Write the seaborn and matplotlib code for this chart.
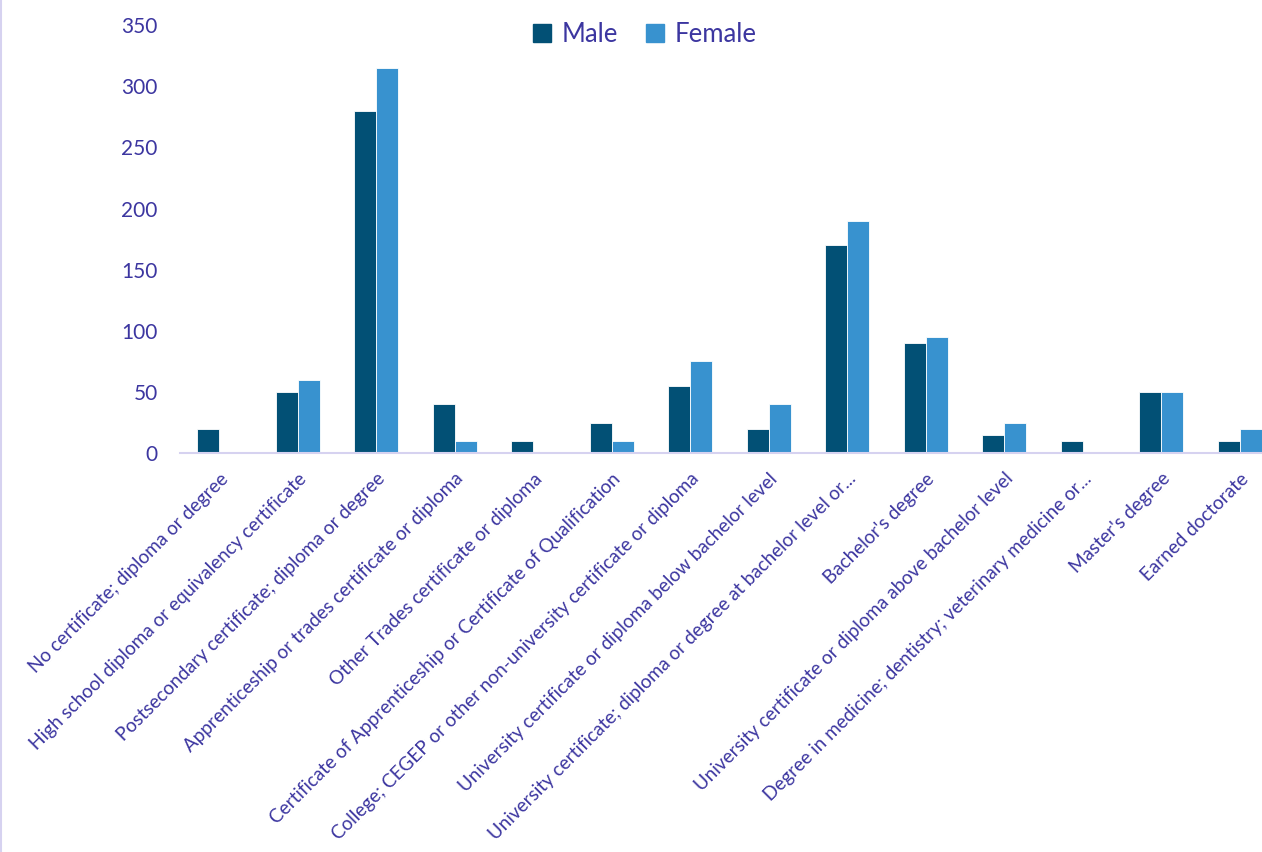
import matplotlib
matplotlib.use("Agg")
import matplotlib.pyplot as plt
import seaborn as sns
import pandas as pd

categories = [
    "No certificate; diploma or degree",
    "High school diploma or equivalency certificate",
    "Postsecondary certificate; diploma or degree",
    "Apprenticeship or trades certificate or diploma",
    "Other Trades certificate or diploma",
    "Certificate of Apprenticeship or Certificate of Qualification",
    "College; CEGEP or other non-university certificate or diploma",
    "University certificate or diploma below bachelor level",
    "University certificate; diploma or degree at bachelor level or...",
    "Bachelor's degree",
    "University certificate or diploma above bachelor level",
    "Degree in medicine; dentistry; veterinary medicine or...",
    "Master's degree",
    "Earned doctorate",
]
male = [20, 50, 280, 40, 10, 25, 55, 20, 170, 90, 15, 10, 50, 10]
female = [0, 60, 315, 10, 0, 10, 75, 40, 190, 95, 25, 0, 50, 20]
series = ["Male", "Female"]
y_ticks = [0, 50, 100, 150, 200, 250, 300, 350]

text_color = "#3C36A0"
palette = {"Male": "#025075", "Female": "#3892CF"}

df = pd.DataFrame({
    "category": categories * 2,
    "sex": ["Male"] * len(categories) + ["Female"] * len(categories),
    "count": male + female,
})

sns.set_style("white")
plt.rcParams["font.family"] = ["Lato", "DejaVu Sans"]

fig = plt.figure(figsize=(12.62, 8.52), dpi=100)
# the plot area runs slightly past the right edge of the canvas
ax = fig.add_axes([0.1426, 0.468, 0.8709, 0.5027])

sns.barplot(
    data=df, x="category", y="count", hue="sex",
    order=categories, hue_order=series, palette=palette,
    width=0.56, gap=0, saturation=1, ax=ax,
    edgecolor="#FFFFFF", linewidth=0.6, legend=True,
)

ax.set_ylim(0, 350)
ax.set_yticks(y_ticks)
ax.set_yticklabels([str(v) for v in y_ticks])
ax.set_xlim(-0.5, len(categories) - 0.5)
ax.set_xlabel("")
ax.set_ylabel("")

for side in ["top", "right", "left"]:
    ax.spines[side].set_visible(False)
ax.spines["bottom"].set_color("#D6D2F0")
ax.spines["bottom"].set_linewidth(1.5)

ax.tick_params(axis="y", length=0, pad=16, labelsize=15, labelcolor=text_color)
ax.tick_params(axis="x", length=0, pad=12, labelsize=13.6, labelcolor=text_color)
for lbl in ax.get_xticklabels():
    lbl.set_rotation(45)
    lbl.set_ha("right")
    lbl.set_va("top")
    lbl.set_rotation_mode("anchor")

ax.legend_.remove()
handles = [plt.Rectangle((0, 0), 1, 1, color=palette[s]) for s in series]
fig.legend(
    handles, series, loc="center", bbox_to_anchor=(0.511, 0.96),
    ncol=2, frameon=False, fontsize=18.5, labelcolor=text_color,
    handlelength=0.7, handleheight=0.7, handletextpad=0.4, columnspacing=1.1,
)

# thin border on the left edge of the figure
fig.add_artist(plt.Line2D([0.0008, 0.0008], [0, 1], color="#D6D2F0", linewidth=1.5,
                          transform=fig.transFigure))

fig.savefig("out.png", dpi=100, facecolor="white")
